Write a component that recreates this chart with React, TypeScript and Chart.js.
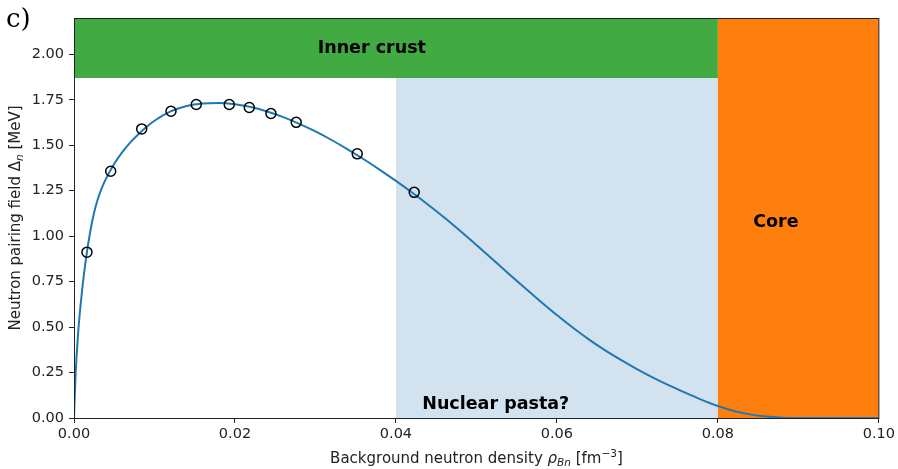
import React, { useEffect, useRef } from "react";
import { Chart, registerables } from "chart.js";

Chart.register(...registerables);

// Measured pairing field at selected background densities
const sampleDensity = [0.00161, 0.00456, 0.00841, 0.01205, 0.01519, 0.01929, 0.02178, 0.02447, 0.02761, 0.03519, 0.04227];
const sampleGap = [0.912, 1.357, 1.59, 1.687, 1.724, 1.724, 1.708, 1.675, 1.626, 1.453, 1.241];

// Fitted curve
const fitDensity = [
  0, 0.0002, 0.0005, 0.001, 0.0015, 0.002, 0.0025, 0.003, 0.0035, 0.004, 0.005, 0.006, 0.007, 0.008, 0.009,
  0.01, 0.012, 0.014, 0.016, 0.018, 0.02, 0.022, 0.024, 0.026, 0.028, 0.03, 0.032, 0.034, 0.036, 0.038,
  0.04, 0.042, 0.044, 0.046, 0.048, 0.05, 0.052, 0.054, 0.056, 0.058, 0.06, 0.062, 0.064, 0.066, 0.068,
  0.07, 0.072, 0.074, 0.076, 0.078, 0.08, 0.082, 0.084, 0.086, 0.088, 0.09, 0.095, 0.1,
];
const fitGap = [
  0, 0.24, 0.46, 0.7, 0.88, 1.02, 1.13, 1.21, 1.27, 1.318, 1.398, 1.462, 1.516, 1.561, 1.601,
  1.635, 1.686, 1.716, 1.73, 1.733, 1.726, 1.71, 1.686, 1.655, 1.618, 1.576, 1.529, 1.478, 1.423, 1.365,
  1.304, 1.24, 1.173, 1.103, 1.029, 0.952, 0.873, 0.794, 0.716, 0.64, 0.566, 0.496, 0.431, 0.372, 0.318,
  0.268, 0.221, 0.178, 0.138, 0.1, 0.066, 0.039, 0.02, 0.008, 0.002, 0, 0, 0,
];

const xTicks = [0, 0.02, 0.04, 0.06, 0.08, 0.1];
const yTicks = [0, 0.25, 0.5, 0.75, 1.0, 1.25, 1.5, 1.75, 2.0];

// Regions: [xMin, xMax, yMin, yMax]
const innerCrustBand = [0, 0.08, 1.87, 2.2];
const pastaBand = [0.04, 0.08, 0, 1.87];
const coreBand = [0.08, 0.1, 0, 2.2];

// Region labels: [text, x, y]
const regionLabels: [string, number, number][] = [
  ["Inner crust", 0.037, 2.033],
  ["Core", 0.0872, 1.077],
  ["Nuclear pasta?", 0.0524, 0.077],
];

type Run = { text: string; italic?: boolean; sub?: boolean; sup?: boolean };

const FAMILY = "'DejaVu Sans', sans-serif";

function runFont(r: Run, size: number) {
  const s = r.sub || r.sup ? size * 0.7 : size;
  return `${r.italic ? "italic " : ""}${s}px ${FAMILY}`;
}

function drawRuns(ctx: CanvasRenderingContext2D, runs: Run[], cx: number, baseline: number, size: number) {
  let total = 0;
  for (const r of runs) {
    ctx.font = runFont(r, size);
    total += ctx.measureText(r.text).width;
  }
  let x = cx - total / 2;
  ctx.textAlign = "left";
  ctx.textBaseline = "alphabetic";
  for (const r of runs) {
    ctx.font = runFont(r, size);
    const dy = r.sub ? size * 0.22 : r.sup ? -size * 0.38 : 0;
    ctx.fillText(r.text, x, baseline + dy);
    x += ctx.measureText(r.text).width;
  }
}

const decorPlugin = {
  id: "decor",
  beforeDatasetsDraw(chart: any) {
    const { ctx, chartArea, scales } = chart;
    const xs = scales.x;
    const ys = scales.y;
    const fillBand = (b: number[], color: string) => {
      const x0 = xs.getPixelForValue(b[0]);
      const x1 = xs.getPixelForValue(b[1]);
      const y0 = ys.getPixelForValue(b[3]);
      const y1 = ys.getPixelForValue(b[2]);
      ctx.fillStyle = color;
      ctx.fillRect(x0, y0, x1 - x0, y1 - y0);
    };
    ctx.save();
    ctx.beginPath();
    ctx.rect(chartArea.left, chartArea.top, chartArea.right - chartArea.left, chartArea.bottom - chartArea.top);
    ctx.clip();
    fillBand(innerCrustBand, "#41aa43");
    fillBand(pastaBand, "#d2e3ef");
    fillBand(coreBand, "#ff7f0e");
    ctx.fillStyle = "#000";
    ctx.font = `bold 17.5px ${FAMILY}`;
    ctx.textAlign = "center";
    ctx.textBaseline = "middle";
    for (const [t, x, y] of regionLabels) {
      ctx.fillText(t, xs.getPixelForValue(x), ys.getPixelForValue(y));
    }
    ctx.restore();
  },
  afterDraw(chart: any) {
    const { ctx, chartArea } = chart;
    ctx.save();
    // frame
    ctx.strokeStyle = "#222";
    ctx.lineWidth = 1;
    ctx.strokeRect(chartArea.left + 0.5, chartArea.top + 0.5, chartArea.right - chartArea.left - 0.5, chartArea.bottom - chartArea.top);
    ctx.fillStyle = "#222";
    // x axis title
    drawRuns(
      ctx,
      [
        { text: "Background neutron density " },
        { text: "ρ", italic: true },
        { text: "Bn", italic: true, sub: true },
        { text: " [fm" },
        { text: "−3", sup: true },
        { text: "]" },
      ],
      (chartArea.left + chartArea.right) / 2,
      463,
      15
    );
    // y axis title
    ctx.translate(20, (chartArea.top + chartArea.bottom) / 2);
    ctx.rotate(-Math.PI / 2);
    drawRuns(
      ctx,
      [
        { text: "Neutron pairing field Δ" },
        { text: "n", italic: true, sub: true },
        { text: " [MeV]" },
      ],
      0,
      0,
      15
    );
    ctx.restore();
    // panel letter
    ctx.save();
    ctx.fillStyle = "#000";
    ctx.font = "26px 'DejaVu Serif', serif";
    ctx.textAlign = "left";
    ctx.textBaseline = "alphabetic";
    ctx.fillText("c)", 6, 27);
    ctx.restore();
  },
};

export default function App() {
  const canvasRef = useRef<HTMLCanvasElement | null>(null);

  useEffect(() => {
    const canvas = canvasRef.current;
    if (!canvas) return;
    const fitPoints = fitDensity.map((x, i) => ({ x, y: fitGap[i] }));
    const samplePoints = sampleDensity.map((x, i) => ({ x, y: sampleGap[i] }));
    const tickFont = { family: FAMILY, size: 14.5 };
    const chart = new Chart(canvas, {
      type: "line",
      data: {
        datasets: [
          {
            data: samplePoints,
            showLine: false,
            pointRadius: 5,
            pointBorderWidth: 1.5,
            pointBorderColor: "#000",
            pointBackgroundColor: "rgba(0,0,0,0)",
            order: 0,
          },
          {
            data: fitPoints,
            borderColor: "#1f77b4",
            borderWidth: 2,
            pointRadius: 0,
            cubicInterpolationMode: "monotone",
            fill: false,
            order: 1,
          },
        ],
      },
      options: {
        animation: false,
        responsive: false,
        layout: { padding: { top: 18, right: 19, left: 0, bottom: 0 } },
        plugins: { legend: { display: false }, tooltip: { enabled: false } },
        scales: {
          x: {
            type: "linear",
            min: 0,
            max: 0.1,
            afterFit: (s: any) => {
              s.height = 51;
            },
            afterBuildTicks: (s: any) => {
              s.ticks = xTicks.map((v) => ({ value: v }));
            },
            ticks: {
              color: "#222",
              font: tickFont,
              padding: 3,
              maxRotation: 0,
              callback: (v: any) => Number(v).toFixed(2),
            },
            grid: { drawOnChartArea: false, tickLength: 5, color: "#222" },
            border: { color: "#222", width: 1 },
          },
          y: {
            type: "linear",
            min: 0,
            max: 2.2,
            afterFit: (s: any) => {
              s.width = 74;
            },
            afterBuildTicks: (s: any) => {
              s.ticks = yTicks.map((v) => ({ value: v }));
            },
            ticks: {
              color: "#222",
              font: tickFont,
              padding: 5,
              callback: (v: any) => Number(v).toFixed(2),
            },
            grid: { drawOnChartArea: false, tickLength: 5, color: "#222" },
            border: { color: "#222", width: 1 },
          },
        },
      },
      plugins: [decorPlugin],
    } as any);
    return () => chart.destroy();
  }, []);

  return (
    <div style={{ position: "absolute", left: 0, top: 0, width: 898, height: 469, background: "#fff" }}>
      <canvas ref={canvasRef} width={898} height={469} style={{ width: 898, height: 469, display: "block" }} />
    </div>
  );
}
